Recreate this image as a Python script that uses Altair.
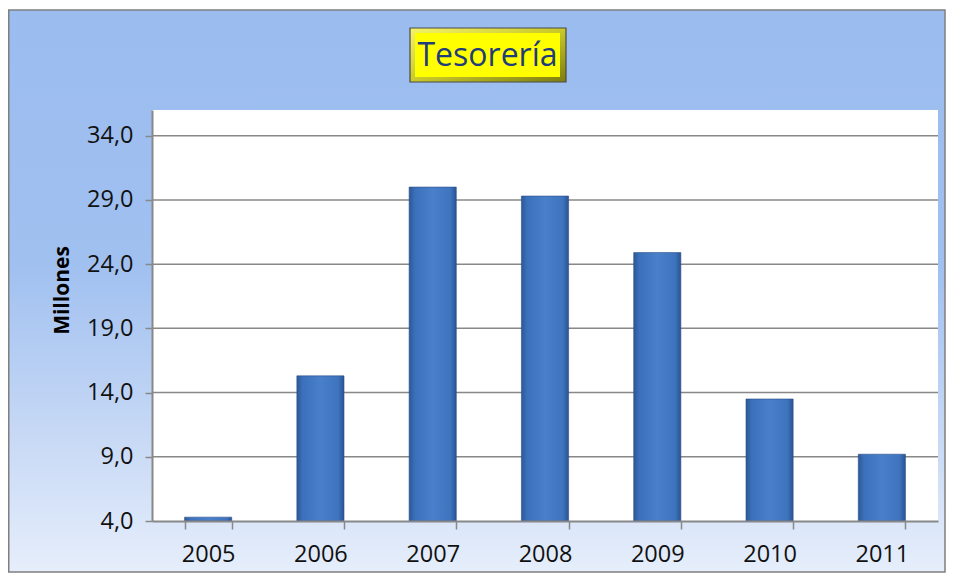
import altair as alt
import pandas as pd

# ---- data ----
years = ["2005", "2006", "2007", "2008", "2009", "2010", "2011"]
values = [4.3, 15.3, 30.0, 29.3, 24.9, 13.5, 9.2]
y_ticks = [4, 9, 14, 19, 24, 29, 34]
y_domain = [4, 36]
title_text = "Tesorería"
y_title = "Millones"

W, H = 786, 411
PAD_L, PAD_T, PAD_R, PAD_B = 144, 102, 8, 52

df = pd.DataFrame({"year": years, "value": values})
grid_df = pd.DataFrame({"value": y_ticks[1:]})
one = pd.DataFrame({"k": [0]})

FONT = "Open Sans"
yscale = alt.Scale(domain=y_domain, zero=False, nice=False)

bg_grad = alt.LinearGradient(
    gradient="linear", x1=0, x2=0, y1=0, y2=1,
    stops=[alt.GradientStop(color="#9bbcef", offset=0),
           alt.GradientStop(color="#a0c0f0", offset=0.45),
           alt.GradientStop(color="#c6d8f5", offset=0.75),
           alt.GradientStop(color="#e6eefb", offset=1)])

bar_grad = alt.LinearGradient(
    gradient="linear", x1=0, x2=1, y1=0, y2=0,
    stops=[alt.GradientStop(color="#2c5897", offset=0),
           alt.GradientStop(color="#3b70ba", offset=0.12),
           alt.GradientStop(color="#4a80cb", offset=0.5),
           alt.GradientStop(color="#3e73bd", offset=0.88),
           alt.GradientStop(color="#2a5393", offset=1)])

title_grad = alt.LinearGradient(
    gradient="linear", x1=0, x2=1, y1=0, y2=1,
    stops=[alt.GradientStop(color="#f4f46a", offset=0),
           alt.GradientStop(color="#c9c92a", offset=0.5),
           alt.GradientStop(color="#7d7d10", offset=1)])

# background frame
bg = alt.Chart(one).mark_rect(fill=bg_grad, stroke="#7f7f7f", strokeWidth=1.5, clip=False).encode(
    x=alt.value(-PAD_L + 0.75), x2=alt.value(W + PAD_R - 1),
    y=alt.value(-PAD_T + 2), y2=alt.value(H + PAD_B - 1))

# white plot area
plot_bg = alt.Chart(one).mark_rect(fill="white").encode(
    x=alt.value(0), x2=alt.value(W), y=alt.value(0), y2=alt.value(H))

# gridlines
grid = alt.Chart(grid_df).mark_rule(color="#888888", strokeWidth=1.5).encode(
    y=alt.Y("value:Q", scale=yscale),
    x=alt.value(0), x2=alt.value(W))

bars = alt.Chart(df).mark_bar(fill=bar_grad, stroke="#2a4f8a", strokeWidth=0.6).encode(
    x=alt.X("year:N", sort=years,
            scale=alt.Scale(paddingInner=0.58, paddingOuter=0.29),
            axis=alt.Axis(title=None, labelAngle=0, tickBand="extent",
                          domainColor="#888888", domainWidth=2,
                          tickColor="#888888", tickWidth=1.5, tickSize=8,
                          labelFont=FONT, labelFontSize=23.5, labelColor="#111111",
                          labelPadding=13, zindex=1)),
    y=alt.Y("value:Q", scale=yscale,
            axis=alt.Axis(values=y_ticks, grid=False,
                          labelExpr="replace(format(datum.value, '.1f'), '.', ',')",
                          domainColor="#888888", domainWidth=2,
                          tickColor="#888888", tickWidth=1.5, tickSize=7,
                          labelFont=FONT, labelFontSize=23.5, labelColor="#111111",
                          labelPadding=12,
                          title=y_title, titleFont=FONT, titleFontSize=21,
                          titleFontWeight="bold", titleColor="#000000",
                          titleY=180, titleX=-90, titleAlign="center",
                          titleBaseline="middle", titleAngle=270, zindex=1)),
    y2=alt.datum(y_domain[0]))

# title box
tbox_outer = alt.Chart(one).mark_rect(fill=title_grad, stroke="#4a4a4a", strokeWidth=1.2, clip=False).encode(
    x=alt.value(258), x2=alt.value(414), y=alt.value(-82), y2=alt.value(-28))
tbox_inner = alt.Chart(one).mark_rect(fill="#ffff00", clip=False).encode(
    x=alt.value(263), x2=alt.value(408), y=alt.value(-77), y2=alt.value(-33))
ttext = alt.Chart(one).mark_text(text=title_text, font=FONT, fontSize=32, color="#1f3d7a",
                                 align="center", baseline="middle", clip=False).encode(
    x=alt.value(335.5), y=alt.value(-54))

chart = alt.layer(bg, plot_bg, grid, bars, tbox_outer, tbox_inner, ttext).properties(
    width=W, height=H,
    autosize=alt.AutoSizeParams(type="none"),
    padding={"left": PAD_L, "top": PAD_T, "right": PAD_R, "bottom": PAD_B},
).configure_view(stroke=None).configure(background="white")

chart.save("out.html", embed_options={"renderer": "svg", "actions": False})
